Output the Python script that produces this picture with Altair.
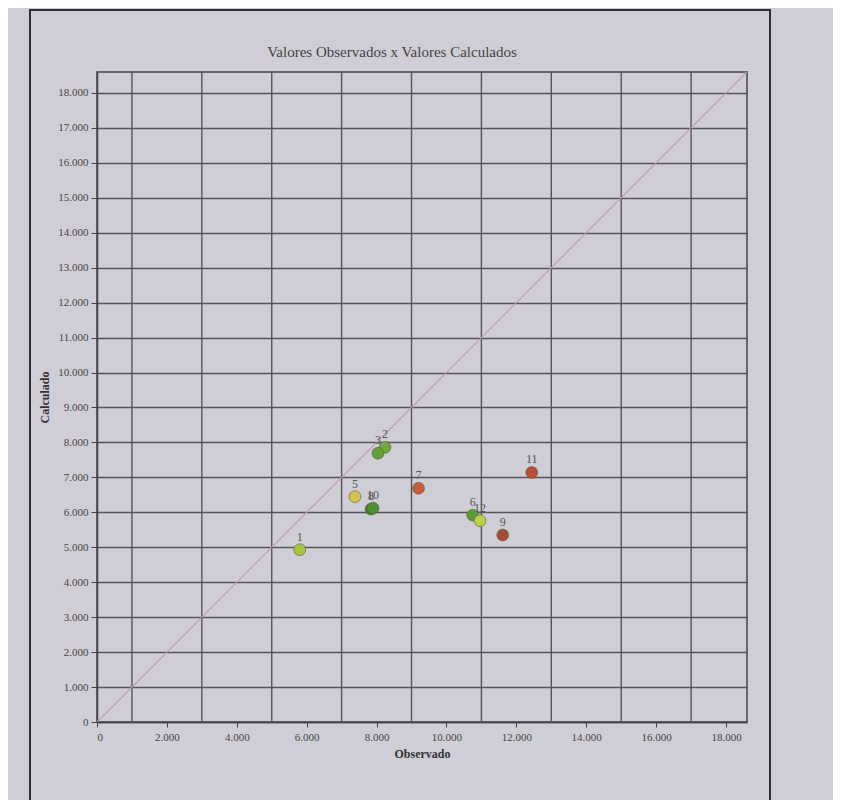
import altair as alt
import pandas as pd

# data
ids = ["1", "2", "3", "5", "6", "7", "8", "9", "10", "11", "12"]
observado = [5800, 8240, 8040, 7380, 10750, 9200, 7840, 11610, 7900, 12440, 10960]
calculado = [4930, 7860, 7690, 6450, 5920, 6690, 6090, 5350, 6120, 7140, 5760]
cores = ["#a8c640", "#73a83c", "#62a038", "#d6c44c", "#5c9c36",
         "#c65c38", "#3f7f2a", "#a44c34", "#4e9034", "#c04a36", "#bccf46"]

titulo = ["Valores Observados x Valores Calculados"]
diag = [0, 18600]
x_grid = [1000, 3000, 5000, 7000, 9000, 11000, 13000, 15000, 17000]
x_ticks = [0, 2000, 4000, 6000, 8000, 10000, 12000, 14000, 16000, 18000]
y_ticks = list(range(0, 18001, 1000))
dominio = [0, 18600]

pts = pd.DataFrame({"id": ids, "obs": observado, "calc": calculado, "cor": cores})
diag_df = pd.DataFrame({"obs": diag, "calc": diag})
grid_df = pd.DataFrame({"g": x_grid})

FONT = "Liberation Serif"
GRID = "#55555f"
label_expr = "replace(format(datum.value, ','), ',', '.')"

xs = alt.Scale(domain=dominio, nice=False)
ys = alt.Scale(domain=dominio, nice=False)

x_axis = alt.Axis(values=x_ticks, grid=False, labelExpr=label_expr, title="Observado",
                  labelFont=FONT, labelFontSize=11, labelColor="#444",
                  titleFont=FONT, titleFontSize=12, titleFontWeight="bold", titleColor="#333",
                  tickColor="#444", tickSize=5, domainColor="#444", domainWidth=1.5,
                  labelPadding=4, titlePadding=6)
y_axis = alt.Axis(values=y_ticks, grid=True, gridColor=GRID, gridWidth=1.4,
                  labelExpr=label_expr, title="Calculado",
                  labelFont=FONT, labelFontSize=11, labelColor="#444",
                  titleFont=FONT, titleFontSize=12, titleFontWeight="bold", titleColor="#333",
                  tickColor="#444", tickSize=6, domainColor="#444", domainWidth=1.5,
                  labelPadding=3, titlePadding=6)

frame = alt.Chart(pd.DataFrame({"k": [0]})).mark_rect(
    filled=False, stroke="#2e2e36", strokeWidth=2
).encode(x=alt.value(-67), x2=alt.value(673), y=alt.value(-62), y2=alt.value(732))

title_mark = alt.Chart(pd.DataFrame({"t": titulo})).mark_text(
    font=FONT, fontSize=15, color="#444", baseline="bottom"
).encode(x=alt.value(295), y=alt.value(-12), text="t:N")

vgrid = alt.Chart(grid_df).mark_rule(color=GRID, strokeWidth=1.4).encode(
    x=alt.X("g:Q", scale=xs, axis=x_axis)
)

line = alt.Chart(diag_df).mark_line(color="#bf9aac", strokeWidth=1.2, clip=True).encode(
    x=alt.X("obs:Q", scale=xs, axis=x_axis),
    y=alt.Y("calc:Q", scale=ys, axis=y_axis),
)

points = alt.Chart(pts).mark_circle(size=140, opacity=1, stroke="#55603a", strokeWidth=0.6).encode(
    x=alt.X("obs:Q", scale=xs, axis=x_axis),
    y=alt.Y("calc:Q", scale=ys, axis=y_axis),
    color=alt.Color("cor:N", scale=None),
)

labels = alt.Chart(pts).mark_text(dy=-13, font=FONT, fontSize=12, color="#555").encode(
    x=alt.X("obs:Q", scale=xs, axis=x_axis),
    y=alt.Y("calc:Q", scale=ys, axis=y_axis),
    text="id:N",
)

chart = alt.layer(frame, title_mark, vgrid, line, points, labels).properties(
    width=650, height=650,
    background="#cfced6",
    autosize=alt.AutoSizeParams(type="none"),
    padding={"left": 89, "top": 64, "right": 86, "bottom": 78},
).configure_view(stroke="#44444c", strokeWidth=1.5)

chart.save("out.html", embed_options={"renderer": "svg", "actions": False})
